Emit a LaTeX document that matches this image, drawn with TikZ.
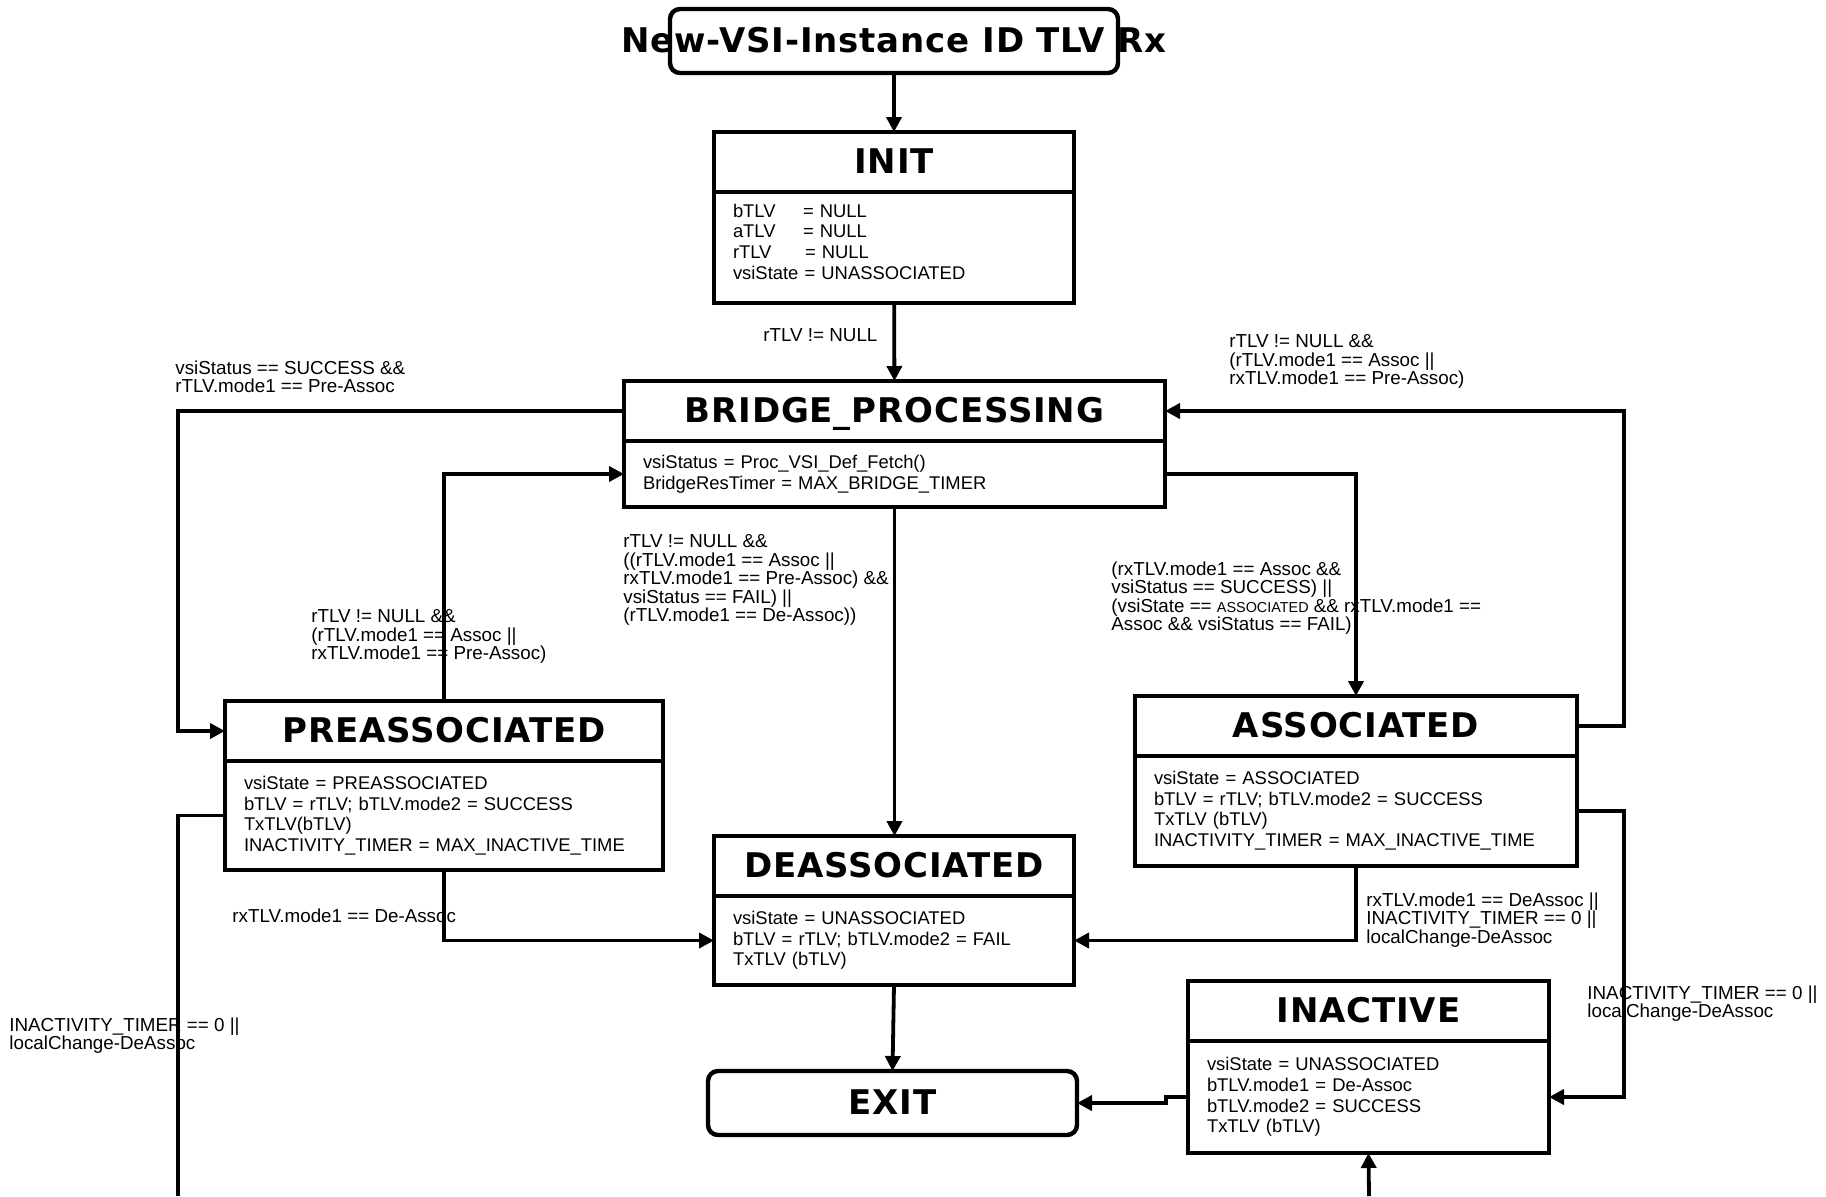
\documentclass[tikz,border=0pt]{standalone}
\usepackage{fontspec}
\setmainfont{Liberation Sans}
\newfontfamily\statefont{DejaVu Sans}[LetterSpace=2.5]
\usetikzlibrary{arrows.meta,positioning}

\newcommand{\statesize}{\statefont\bfseries\fontsize{17}{20}\selectfont}
\newcommand{\varsize}{\fontsize{9.2}{10.3}\selectfont}
\newcommand{\guardsize}{\fontsize{9.4}{9.3}\selectfont}

\begin{document}
\begin{tikzpicture}[x=0.5pt,y=-0.5pt,
	state/.style={draw, line width=2.2pt, outer sep=0pt, inner sep=0pt, minimum height=30pt,
		text height=12.4pt, text depth=0.6pt, font=\statesize, anchor=north},
	vars/.style={draw, line width=2.2pt, outer sep=0pt, inner xsep=9.5pt, inner ysep=0pt,
		align=left, font=\varsize},
	lift/.style={execute at end node={\rule[-#1]{0pt}{0pt}}},
	ends/.style={draw, line width=2.2pt, rounded corners=5pt, outer sep=0pt, inner sep=0pt,
		minimum height=32pt, text height=12.4pt, text depth=0.6pt, font=\statesize},
	trans/.style={line width=1.9pt, -{Triangle[length=7.5pt,width=7.5pt]}},
	wire/.style={line width=1.9pt},
	guard/.style={font=\guardsize, align=left, anchor=north west, inner sep=0pt}]

\useasboundingbox (0,0) rectangle (1826,1196);

% rails on both sides
\coordinate (lrail) at (178,0);
\coordinate (rrail) at (1624,0);
\coordinate (offleft) at (178,1196);
\coordinate (offright) at (1369,1196);

% states
\node[ends, minimum width=224pt] (start) at (894,41) {\makebox[0pt]{New-VSI-Instance ID TLV Rx}};

\node[state, minimum width=180pt] (init) at (894,132) {INIT};
\node[vars, lift=6pt, below=0pt of init, text width=161pt, minimum height=55.5pt] (init-vars)
	{\makebox[35pt][l]{bTLV}= NULL\\
	 \makebox[35pt][l]{aTLV}= NULL\\
	 \makebox[36pt][l]{rTLV}= NULL\\
	 vsiState = UNASSOCIATED};

\node[state, minimum width=270.5pt] (bp) at (894.5,381) {BRIDGE\_PROCESSING};
\node[vars, below=0pt of bp, text width=251.5pt, minimum height=33pt] (bp-vars)
	{vsiStatus = Proc\_VSI\_Def\_Fetch()\\
	 BridgeResTimer = MAX\_BRIDGE\_TIMER};

\node[state, minimum width=219pt] (pre) at (444,701) {PREASSOCIATED};
\node[vars, below=0pt of pre, text width=200pt, minimum height=54.5pt] (pre-vars)
	{vsiState = PREASSOCIATED\\
	 bTLV = rTLV; bTLV.mode2 = SUCCESS\\
	 TxTLV(bTLV)\\
	 INACTIVITY\_TIMER = MAX\_INACTIVE\_TIME};

\node[state, minimum width=221pt] (assoc) at (1356,696) {ASSOCIATED};
\node[vars, lift=2pt, below=0pt of assoc, text width=202pt, minimum height=55pt] (assoc-vars)
	{vsiState = ASSOCIATED\\
	 bTLV = rTLV; bTLV.mode2 = SUCCESS\\
	 TxTLV (bTLV)\\
	 INACTIVITY\_TIMER = MAX\_INACTIVE\_TIME};

\node[state, minimum width=180pt] (deassoc) at (894,836) {DEASSOCIATED};
\node[vars, below=0pt of deassoc, text width=161pt, minimum height=44.5pt] (deassoc-vars)
	{vsiState = UNASSOCIATED\\
	 bTLV = rTLV; bTLV.mode2 = FAIL\\
	 TxTLV (bTLV)};

\node[state, minimum width=180.5pt] (inactive) at (1368.5,981) {INACTIVE};
\node[vars, lift=1pt, below=0pt of inactive, text width=161.5pt, minimum height=56pt] (inactive-vars)
	{vsiState = UNASSOCIATED\\
	 bTLV.mode1 = De-Assoc\\
	 bTLV.mode2 = SUCCESS\\
	 TxTLV (bTLV)};

\node[ends, minimum width=184.5pt] (exit) at (892.5,1103) {EXIT};

% guards
\node[guard] (g-init) at (763,328) {rTLV != NULL};
\node[guard] (g-bp-pre) at (175,360) {vsiStatus == SUCCESS \&\&\\rTLV.mode1 == Pre-Assoc};
\node[guard] (g-pre-bp) at (311,609) {rTLV != NULL \&\&\\(rTLV.mode1 == Assoc ||\\rxTLV.mode1 == Pre-Assoc)};
\node[guard] (g-bp-de) at (623,534) {rTLV != NULL \&\&\\((rTLV.mode1 == Assoc ||\\rxTLV.mode1 == Pre-Assoc) \&\&\\vsiStatus == FAIL) ||\\(rTLV.mode1 == De-Assoc))};
\node[guard] (g-bp-as) at (1111,561) {(rxTLV.mode1 == Assoc \&\&\\vsiStatus == SUCCESS) ||\\(vsiState == {\fontsize{7.2}{9.3}\selectfont ASSOCIATED} \&\& rxTLV.mode1 ==\\Assoc \&\& vsiStatus == FAIL)};
\node[guard] (g-as-bp) at (1229,334) {rTLV != NULL \&\&\\(rTLV.mode1 == Assoc ||\\rxTLV.mode1 == Pre-Assoc)};
\node[guard] (g-pre-de) at (232,908) {rxTLV.mode1 == De-Assoc};
\node[guard] (g-as-de) at (1366,892) {rxTLV.mode1 == DeAssoc ||\\INACTIVITY\_TIMER == 0 ||\\localChange-DeAssoc};
\node[guard] (g-pre-in) at (9,1017) {INACTIVITY\_TIMER == 0 ||\\localChange-DeAssoc};
\node[guard] (g-as-in) at (1587,985) {INACTIVITY\_TIMER == 0 ||\\localChange-DeAssoc};

% transitions
\draw[trans] (start) -- (init);
\draw[trans] (init-vars) -- (bp);
\draw[trans] (bp.west) -| (lrail |- pre.west) -- (pre.west);
\draw[trans] (pre.north) |- (bp-vars.west);
\draw[trans] (bp-vars.east) -| (assoc.north);
\draw[trans] (assoc.east) -| (rrail |- bp.east) -- (bp.east);
\draw[trans] (bp-vars.south) -- (bp-vars.south |- deassoc.north);
\draw[trans] (pre-vars.south) |- (deassoc-vars.west);
\draw[trans] (assoc-vars.south) |- (deassoc-vars.east);
\draw[trans] (deassoc-vars.south) -- (exit.north);
\draw[trans] (inactive-vars.west) -- ++(-22,0) |- (exit.east);
\draw[wire] (pre-vars.west) -| (offleft);
\draw[trans] (offright) -- (inactive-vars.south);
\draw[trans] (assoc-vars.east) -| (rrail |- inactive-vars.east) -- (inactive-vars.east);

\end{tikzpicture}
\end{document}
